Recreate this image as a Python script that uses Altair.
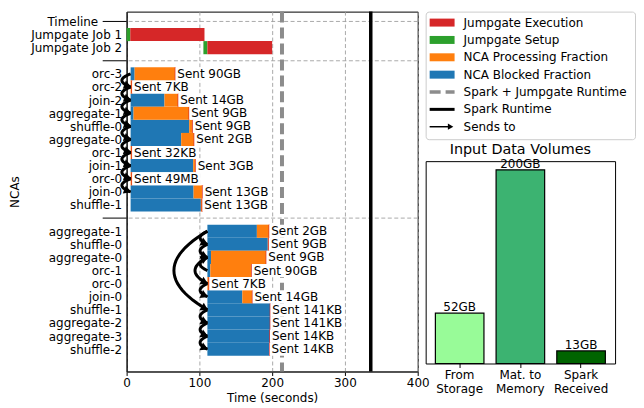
import numpy as np
import pandas as pd
import altair as alt

# ---------------- data ----------------
ROW_LABELS = ["Timeline", "Jumpgate Job 1", "Jumpgate Job 2", "",
              "orc-3", "orc-2", "join-2", "aggregate-1", "shuffle-0", "aggregate-0",
              "orc-1", "join-1", "orc-0", "join-0", "shuffle-1", "",
              "aggregate-1", "shuffle-0", "aggregate-0", "orc-1", "orc-0", "join-0",
              "shuffle-1", "aggregate-2", "aggregate-3", "shuffle-2"]
SEPARATOR_ROWS = [0, 3, 15]

JOB_ROWS = [1, 2]
JOB_SETUP_START = [0.0, 105.5]
JOB_EXEC_START = [5.0, 111.0]
JOB_EXEC_END = [107.0, 200.0]

NCA_ROWS = [4, 5, 6, 7, 8, 9, 10, 11, 12, 13, 14,
            16, 17, 18, 19, 20, 21, 22, 23, 24, 25]
NCA_START = [5.5] * 11 + [111.0] * 10
NCA_BLOCKED_END = [11, 5.5, 52, 9.5, 86, 75, 5.5, 91.5, 5.5, 92, 102,
                   179, 194, 116, 115, 111, 159, 197.5, 197.5, 197, 196.5]
NCA_END = [67, 7.5, 71, 86, 91, 93, 7.5, 95, 7.5, 104.5, 104,
           196, 195.5, 192, 172, 113.5, 173, 197.5, 197.5, 197, 196.5]
NCA_SENT = ["90GB", "7KB", "14GB", "9GB", "9GB", "2GB", "32KB", "3GB", "49MB", "13GB", "13GB",
            "2GB", "9GB", "9GB", "90GB", "7KB", "14GB", "141KB", "141KB", "14KB", "14KB"]

SPARK_JUMPGATE_RUNTIME = [213.5]
SPARK_RUNTIME = [335.5]

EDGE_SRC = [4, 5, 6, 7, 8, 9, 10, 11, 12, 16, 17, 19, 18, 20, 16, 22, 23, 24]
EDGE_DST = [5, 6, 7, 8, 9, 10, 11, 12, 13, 17, 18, 18, 20, 21, 22, 23, 24, 25]
EDGE_BEND = [24, 24, 24, 24, 24, 24, 24, 24, 24, 20, 20, 20, 34, 20, 92, 20, 20, 20]

LEG_LABELS = ["Jumpgate Execution", "Jumpgate Setup", "NCA Processing Fraction",
              "NCA Blocked Fraction", "Spark + Jumpgate Runtime", "Spark Runtime", "Sends to"]
LEG_COLORS = ["#d62728", "#2ca02c", "#ff7f0e", "#1f77b4"]

VOL_LABELS = ["From|Storage", "Mat. to|Memory", "Spark|Received"]
VOL_VALUES = [52, 200, 13]
VOL_TEXT = ["52GB", "200GB", "13GB"]
VOL_COLORS = ["#98fb98", "#3cb371", "#006400"]

# ---------------- layout constants ----------------
W, H = 292, 361
XDOM = [0, 400]
YDOM = [-0.75, 26.7]
SX = W / (XDOM[1] - XDOM[0])
SY = H / (YDOM[1] - YDOM[0])
FONT = "DejaVu Sans"

XS = alt.Scale(domain=XDOM, nice=False, zero=False)
YS = alt.Scale(domain=YDOM, nice=False, zero=False, reverse=True)
label_arr = "[" + ",".join("'" + s + "'" for s in ROW_LABELS) + "]"
XAX = alt.Axis(values=[0, 100, 200, 300, 400], title="Time (seconds)", grid=True,
               gridDash=[4, 2.5], gridColor="#a0a0a0", gridWidth=0.9,
               tickSize=4, tickColor="black", domainColor="#444", domainWidth=1.5,
               labelFontSize=12, titleFontSize=12, titleFontWeight="normal",
               labelColor="black", titleColor="black", labelPadding=2, titlePadding=4,
               labelFlush=False)
YAX = alt.Axis(values=list(range(len(ROW_LABELS))), labelExpr=label_arr + "[datum.value]",
               ticks=False, grid=False, title="NCAs", labelFontSize=12, titleFontSize=12,
               titleFontWeight="normal", labelColor="black", titleColor="black",
               domainColor="black",
               labelPadding={"condition": {"test": "datum.value === 0", "value": 29}, "value": 5},
               titlePadding=9, labelOverlap=False)


def X(f):
    return alt.X(f, type="quantitative", scale=XS, axis=XAX)


def Y(f):
    return alt.Y(f, type="quantitative", scale=YS, axis=YAX)


# ---------------- main chart data frames ----------------
sep_df = pd.DataFrame({"row": SEPARATOR_ROWS})
jobs_df = pd.DataFrame({"row": JOB_ROWS, "s0": JOB_SETUP_START, "s1": JOB_EXEC_START,
                        "e1": JOB_EXEC_END})
jobs_df["lo"] = jobs_df["row"] - 0.5
jobs_df["hi"] = jobs_df["row"] + 0.5

CHAR_W = {"S": 7.62, "e": 7.38, "n": 7.6, "t": 4.7, " ": 3.82, "G": 9.3, "B": 8.23,
          "K": 7.87, "M": 10.36}


def text_w(s):
    return sum(CHAR_W.get(c, 7.63) for c in s)


nca_df = pd.DataFrame({"row": NCA_ROWS, "start": NCA_START, "bend": NCA_BLOCKED_END,
                       "end": NCA_END, "sent": NCA_SENT})
nca_df["lo"] = nca_df["row"] - 0.5
nca_df["hi"] = nca_df["row"] + 0.5
nca_df["label"] = "Sent " + nca_df["sent"]
nca_df["box_end"] = nca_df["end"] + (text_w("Sent ") + nca_df["sent"].map(text_w) + 4) / SX

# arrows (quadratic curves between source and target NCAs)
start_by_row = dict(zip(NCA_ROWS, NCA_START))
pts, heads = [], []
tt = np.linspace(0, 1, 25)
for k, (s, d, b) in enumerate(zip(EDGE_SRC, EDGE_DST, EDGE_BEND)):
    x0, y0 = start_by_row[s], float(s)
    x1, y1 = start_by_row[d], float(d)
    cx, cy = min(x0, x1) - b, (y0 + y1) / 2
    xs = (1 - tt) ** 2 * x0 + 2 * (1 - tt) * tt * cx + tt ** 2 * x1
    ys = (1 - tt) ** 2 * y0 + 2 * (1 - tt) * tt * cy + tt ** 2 * y1
    for j in range(len(tt)):
        pts.append({"e": k, "o": j, "x": xs[j], "y": ys[j]})
    dxp, dyp = (x1 - cx) * SX, (y1 - cy) * SY
    n = np.hypot(dxp, dyp)
    ang = (np.degrees(np.arctan2(dxp, -dyp)) + 360) % 360
    heads.append({"x": x1 - 3 * dxp / n / SX, "y": y1 - 3 * dyp / n / SY, "a": ang})
arrow_df = pd.DataFrame(pts)
head_df = pd.DataFrame(heads)

# ---------------- main chart layers ----------------
hgrid = alt.Chart(sep_df).mark_rule(color="#a0a0a0", strokeDash=[4, 2.5], strokeWidth=0.9).encode(
    y=Y("row"))
long_ticks = alt.Chart(sep_df).mark_rule(color="black", strokeWidth=1).encode(
    y=Y("row"), x=alt.value(-24), x2=alt.value(0))
sj_line = alt.Chart(pd.DataFrame({"t": SPARK_JUMPGATE_RUNTIME})).mark_rule(
    color="#8c8c8c", strokeWidth=4, strokeDash=[11, 5]).encode(x=X("t"))
s_line = alt.Chart(pd.DataFrame({"t": SPARK_RUNTIME})).mark_rule(
    color="black", strokeWidth=3.5).encode(x=X("t"))

setup = alt.Chart(jobs_df).mark_rect(color="#2ca02c").encode(
    x=X("s0"), x2="s1", y=Y("lo"), y2="hi")
execu = alt.Chart(jobs_df).mark_rect(color="#d62728").encode(
    x=X("s1"), x2="e1", y=Y("lo"), y2="hi")
blocked = alt.Chart(nca_df).mark_rect(color="#1f77b4").encode(
    x=X("start"), x2="bend", y=Y("lo"), y2="hi")
proc = alt.Chart(nca_df).mark_rect(color="#ff7f0e").encode(
    x=X("bend"), x2="end", y=Y("lo"), y2="hi")
endmark = alt.Chart(nca_df).mark_rule(color="#d62728", strokeWidth=1.3).encode(
    x=X("end"), y=Y("lo"), y2="hi")
boxes = alt.Chart(nca_df).mark_rect(color="white").encode(
    x=X("end"), x2="box_end", y=Y("lo"), y2="hi")
texts = alt.Chart(nca_df).mark_text(align="left", baseline="middle", dx=2, fontSize=12,
                                    color="black").encode(
    x=X("end"), y=Y("row"), text="label:N")
arrows = alt.Chart(arrow_df).mark_line(color="black", strokeWidth=3).encode(
    x=X("x"), y=Y("y"), detail="e:N", order="o:Q")
arrowheads = alt.Chart(head_df).mark_point(shape="triangle-up", filled=True, color="black",
                                           opacity=1, size=75).encode(
    x=X("x"), y=Y("y"), angle=alt.Angle("a:Q", scale=None))

main = alt.layer(hgrid, long_ticks, sj_line, s_line, setup, execu, blocked, proc, endmark,
                 boxes, texts, arrows, arrowheads).properties(width=W, height=H)

# ---------------- legend panel ----------------
leg_df = pd.DataFrame({"i": list(range(len(LEG_LABELS))), "label": LEG_LABELS})
LY = alt.Y("i:Q", scale=alt.Scale(domain=[-0.632, 6.72], reverse=True, nice=False, zero=False),
           axis=None)
sw_df = leg_df.iloc[:4].copy()
sw_df["col"] = LEG_COLORS
sw = alt.Chart(sw_df).mark_rule(strokeWidth=8).encode(
    x=alt.value(4), x2=alt.value(29), y=LY, color=alt.Color("col:N", scale=None))
sw_dash = alt.Chart(leg_df.iloc[4:5]).mark_rule(strokeWidth=3.5, color="#8c8c8c",
                                                strokeDash=[11, 5]).encode(
    x=alt.value(4), x2=alt.value(29), y=LY)
sw_line = alt.Chart(leg_df.iloc[5:6]).mark_rule(strokeWidth=3, color="black").encode(
    x=alt.value(4), x2=alt.value(29), y=LY)
sw_arrow = alt.Chart(leg_df.iloc[6:7]).mark_rule(strokeWidth=1.5, color="black").encode(
    x=alt.value(4), x2=alt.value(24), y=LY)
sw_head = alt.Chart(leg_df.iloc[6:7]).mark_point(shape="triangle-up", filled=True, color="black",
                                                 opacity=1, size=40, angle=90).encode(
    x=alt.value(25), y=LY)
leg_text = alt.Chart(leg_df).mark_text(align="left", baseline="middle", fontSize=12,
                                       color="black").encode(
    x=alt.value(38), y=LY, text="label:N")
legend = alt.layer(sw, sw_dash, sw_line, sw_arrow, sw_head, leg_text).properties(
    width=210, height=128,
    view=alt.ViewBackground(stroke="#cccccc", strokeWidth=1, cornerRadius=3))

# ---------------- input data volumes ----------------
vol_df = pd.DataFrame({"cat": VOL_LABELS, "v": VOL_VALUES, "t": VOL_TEXT, "col": VOL_COLORS})
BX = alt.X("cat:N", sort=VOL_LABELS,
           scale=alt.Scale(paddingInner=0.2, paddingOuter=0.16),
           axis=alt.Axis(title=None, labelAngle=0, labelExpr="split(datum.label, '|')",
                         labelFontSize=12, labelLineHeight=14, tickSize=4, tickColor="black",
                         labelColor="black", labelPadding=2, domain=False))
BY = alt.Y("v:Q", scale=alt.Scale(domain=[0, 209], nice=False), axis=None)
vbars = alt.Chart(vol_df).mark_bar(stroke="black", strokeWidth=1.2).encode(
    x=BX, y=BY, color=alt.Color("col:N", scale=None))
vtext = alt.Chart(vol_df).mark_text(baseline="bottom", fontSize=12, color="black", dy=1).encode(
    x=BX, y=BY, text="t:N")
volumes = alt.layer(vbars, vtext).properties(
    width=190, height=203,
    title=alt.TitleParams("Input Data Volumes", fontSize=14.4, fontWeight="normal",
                          color="black", offset=1))

right = alt.vconcat(legend, volumes, spacing=0)
chart = alt.hconcat(main, right, spacing=8, bounds="flush").properties(
    padding={"left": 0, "top": 0, "right": 0, "bottom": 0}
).configure(font=FONT).configure_view(stroke="black", strokeWidth=1)

chart.save("out.html", embed_options={"renderer": "svg", "actions": False})
